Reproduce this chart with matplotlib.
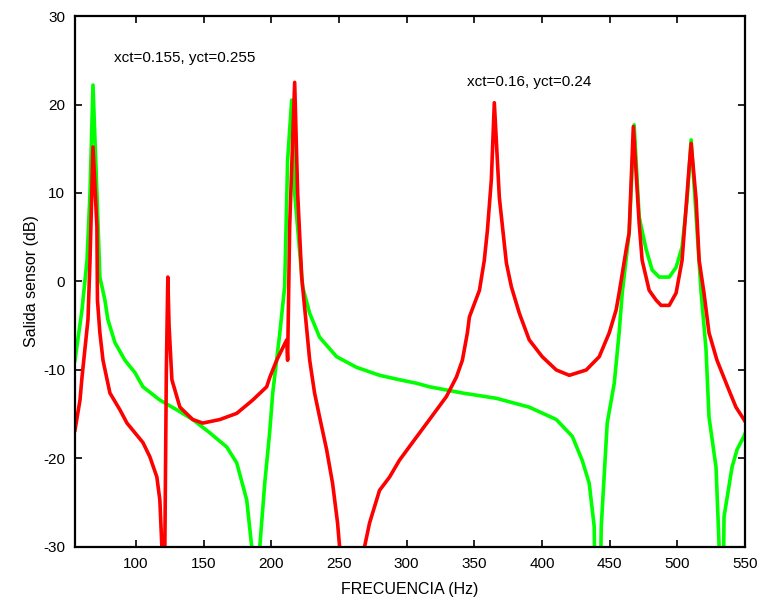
import matplotlib
matplotlib.use("Agg")
import matplotlib.pyplot as plt

# curva verde (xct=0.155, yct=0.255)
freq_verde = [55, 60.2, 63.9, 66.1, 68.3, 71.2, 73.4, 77.1, 79.3, 84.5, 91.9, 99.3,
              105.2, 117.7, 130.2, 142, 154.6, 167.1, 174.5, 181.9, 185.6, 186.5,
              190.5, 191.5, 195.2, 198.8, 201.1, 206.2, 209.9, 212.1, 215.1, 217.3,
              223.2, 228.4, 235.7, 248.3, 263, 280, 294.7, 307.3, 316.9, 341.2,
              366.3, 390.6, 410.6, 422.4, 429.7, 434.9, 438.6, 439.5, 442.5, 443.8,
              448.2, 453.4, 457, 459.3, 464.4, 468.1, 471.8, 477, 481.4, 486.6,
              494, 499.1, 503.5, 507.2, 510.2, 513.9, 517.6, 521.2, 523.4, 528.6,
              530.8, 531.5, 533.5, 534.5, 540.4, 544.1, 549.2, 550]
db_verde = [-8.9, -3.2, 2.4, 10, 22.2, 10, 0.5, -2.1, -4.3, -6.9, -8.9, -10.3,
            -11.9, -13.4, -14.5, -15.6, -17.1, -18.7, -20.5, -24.7, -30, -40,
            -40, -30, -22.8, -17.1, -12.6, -6, -0.6, 13.7, 20.5, 10,
            -0.6, -3.6, -6.3, -8.5, -9.7, -10.6, -11.1, -11.5, -11.9, -12.6,
            -13.2, -14.2, -15.6, -17.5, -20.2, -22.8, -27.7, -40, -40, -27.7,
            -16, -11.5, -5.8, -1.3, 5.5, 17.7, 7.3, 3.6, 1.3, 0.5,
            0.5, 1.6, 3.9, 9.2, 16, 7.3, -1.3, -7.7, -15.3, -21,
            -29.6, -40, -40, -26.6, -21, -19, -17.5, -17.2]

# curva roja (xct=0.16, yct=0.24)
freq_roja = [55, 58.7, 60.2, 64.6, 66.1, 68.3, 71.2, 71.6, 73.4, 75.7, 80.8, 88.2,
             93.4, 105.2, 110.3, 115.5, 117.7, 119.2, 119.5, 121, 121.4, 122.5,
             123.6, 124.5, 126.6, 132.5, 142, 149.4, 162, 174.5, 186.3, 196.6,
             199, 204, 211.4, 212.1, 213.6, 217.3, 219.5, 222.5, 228.4, 232,
             235.7, 240.9, 245.3, 249, 250.5, 251, 268.5, 268.9, 272.6, 280,
             287.4, 294.7, 304.3, 316.9, 329.4, 336.8, 341.2, 344.9, 346.4, 353.8,
             357.4, 359.7, 362.6, 364.8, 368.5, 373.7, 377.4, 383.3, 390.6, 400.2,
             410.6, 420.2, 432.7, 442.3, 449.7, 454.8, 457, 462.2, 464.4, 467.5,
             471.8, 474, 479.2, 484.3, 488, 494, 499.1, 503.5, 508.7, 510.2,
             513.9, 516.1, 519.7, 523.4, 529.3, 538.2, 543.3, 549.2, 550]
db_roja = [-16.8, -13.4, -10.8, -4.3, 2.4, 15.2, 6.2, -2.1, -5.8, -8.9, -12.6, -14.5,
           -16, -18.2, -19.8, -22.1, -24.7, -30, -40, -40, -30, -10,
           0.5, -5, -11.1, -14.2, -15.6, -16, -15.6, -14.9, -13.4, -11.9,
           -10.8, -8.9, -6.6, -8.9, 6.2, 22.5, 10, 0.5, -8.9, -12.6,
           -15.3, -19, -22.8, -27.3, -30, -40, -40, -30, -27.3, -23.6,
           -22.1, -20.2, -18.2, -15.6, -13, -10.8, -8.9, -5.8, -4, -1,
           2.4, 5.8, 11.5, 20.2, 9.5, 2.1, -0.6, -3.6, -6.6, -8.5,
           -10, -10.6, -10, -8.5, -5.8, -3.2, -1.3, 3.6, 5.5, 17.5,
           6.6, 2.4, -1, -2.1, -2.7, -2.7, -1.3, 2.4, 12.9, 15.6,
           9.2, 2.4, -1.3, -5.8, -8.9, -12.3, -14.2, -15.6, -15.8]

x_ticks = [100, 150, 200, 250, 300, 350, 400, 450, 500, 550]
y_ticks = [-30, -20, -10, 0, 10, 20, 30]

plt.rcParams['font.family'] = ['Liberation Sans', 'DejaVu Sans']
plt.rcParams['axes.unicode_minus'] = False

fig = plt.figure(figsize=(7.62, 6.04), dpi=100)
ax = fig.add_axes([0.0984, 0.0944, 0.8793, 0.8791])

ax.plot(freq_verde, db_verde, color='#00ff00', linewidth=2.6, solid_joinstyle='round')
ax.plot(freq_roja, db_roja, color='#ff0000', linewidth=2.6, solid_joinstyle='round')

ax.set_xlim(55, 550)
ax.set_ylim(-30, 30)
ax.set_xticks(x_ticks)
ax.set_yticks(y_ticks)
ax.tick_params(direction='in', top=True, right=True, length=5, width=1.2,
               labelsize=11, pad=7)
for s in ax.spines.values():
    s.set_linewidth(1.6)

ax.set_xlabel('FRECUENCIA (Hz)', fontsize=11.5, labelpad=8)
ax.set_ylabel('Salida sensor (dB)', fontsize=11.5, labelpad=3)

ax.text(136, 25.25, 'xct=0.155, yct=0.255', fontsize=11, ha='center', va='center')
ax.text(390.5, 22.5, 'xct=0.16, yct=0.24', fontsize=11, ha='center', va='center')

fig.savefig('out.png', dpi=100)
